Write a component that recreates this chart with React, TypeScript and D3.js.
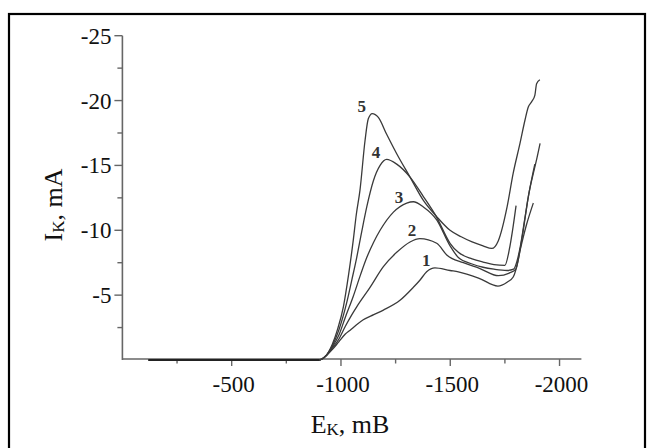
import React from "react";
import * as d3 from "d3";

// Potential (mV) and current (mA) for each polarization curve
const e1 = [-120, -900, -930, -960, -990, -1020, -1042, -1070, -1102, -1150, -1194, -1270, -1331, -1361, -1392, -1430, -1499, -1537, -1632, -1718, -1760, -1788, -1813, -1834, -1857, -1883, -1897, -1911];
const i1 = [0, 0, -0.3, -0.8, -1.4, -2.0, -2.3, -2.7, -3.1, -3.5, -3.85, -4.6, -5.6, -6.15, -6.8, -7.1, -6.9, -6.8, -6.3, -5.7, -6.0, -6.4, -7.9, -10.0, -12.6, -14.6, -15.6, -16.7];

const e2 = [-120, -900, -930, -960, -990, -1020, -1050, -1072, -1133, -1194, -1255, -1316, -1361, -1438, -1484, -1560, -1636, -1720, -1770, -1800, -1820, -1850, -1880];
const i2 = [0, 0, -0.3, -0.9, -1.6, -2.6, -3.5, -4.1, -5.6, -7.2, -8.3, -9.1, -9.36, -9.0, -8.1, -7.5, -7.05, -6.5, -6.7, -7.0, -8.5, -10.5, -12.1];

const e3 = [-120, -900, -930, -960, -990, -1020, -1056, -1090, -1118, -1150, -1179, -1240, -1301, -1331, -1377, -1438, -1499, -1537, -1600, -1650, -1700, -1760, -1790, -1805, -1820, -1842, -1865, -1887];
const i3 = [0, 0, -0.3, -1.0, -1.9, -3.3, -4.9, -6.6, -7.9, -9.1, -10.0, -11.4, -12.1, -12.2, -11.8, -10.8, -8.8, -7.9, -7.4, -7.15, -7.0, -6.9, -7.0, -7.6, -8.7, -11.0, -13.3, -15.1];

const e4 = [-120, -900, -930, -960, -990, -1026, -1050, -1072, -1095, -1118, -1148, -1179, -1209, -1255, -1316, -1377, -1438, -1499, -1537, -1600, -1650, -1700, -1750, -1770, -1785, -1801];
const i4 = [0, 0, -0.3, -1.1, -2.3, -4.4, -6.2, -7.9, -9.9, -11.8, -13.8, -15.0, -15.46, -15.1, -14.1, -12.6, -11.0, -9.0, -8.3, -7.8, -7.55, -7.35, -7.3, -8.5, -10.0, -11.9];

const e5 = [-120, -900, -930, -960, -985, -1011, -1035, -1056, -1070, -1087, -1110, -1125, -1143, -1171, -1209, -1255, -1316, -1377, -1438, -1499, -1550, -1600, -1650, -1690, -1720, -1760, -1788, -1819, -1842, -1857, -1872, -1887, -1895, -1910];
const i5 = [0, 0, -0.3, -1.2, -2.4, -4.1, -6.6, -9.2, -11.2, -13.1, -16.9, -18.6, -19.0, -18.7, -17.4, -15.9, -14.1, -12.3, -11.05, -10.0, -9.5, -9.1, -8.8, -8.6, -9.2, -11.8, -14.4, -16.7, -18.5, -19.5, -19.9, -20.4, -21.3, -21.6];

const curveLabels = ["1", "2", "3", "4", "5"];
const labelE = [-1390, -1325, -1265, -1160, -1095];
const labelI = [-7.7, -10.0, -12.6, -16.0, -19.6];

const xTicksMajor = [-500, -1000, -1500, -2000];
const xTicksMinor = [-250, -750, -1250, -1750];
const yTicksMajor = [-5, -10, -15, -20, -25];
const yTicksMinor = [-2.5, -7.5, -12.5, -17.5, -22.5];

const W = 653;
const H = 448;

export default function App() {
  const x = d3.scaleLinear().domain([0, -2100]).range([122.4, 581.4]);
  const y = d3.scaleLinear().domain([0, -25]).range([360, 35.7]);

  const series = [
    [e1, i1],
    [e2, i2],
    [e3, i3],
    [e4, i4],
    [e5, i5],
  ];

  const line = d3
    .line<[number, number]>()
    .x((d) => x(d[0]))
    .y((d) => y(d[1]))
    .curve(d3.curveMonotoneX);

  const axisColor = "#666";
  const font = "'Liberation Serif', 'Times New Roman', serif";

  return (
    <svg
      width={W}
      height={H}
      style={{ position: "absolute", left: 0, top: 0, background: "#fff" }}
      fontFamily={font}
    >
      <rect x={9} y={14} width={636} height={500} fill="none" stroke="#000" strokeWidth={2.2} />

      {/* axes */}
      <line x1={x(0)} x2={x(0)} y1={y(-25)} y2={y(0)} stroke={axisColor} strokeWidth={1.6} />
      <line x1={x(0)} x2={x(-2100)} y1={y(0) - 1} y2={y(0) - 1} stroke={axisColor} strokeWidth={1.6} />

      {yTicksMajor.map((t) => (
        <g key={"ym" + t}>
          <line x1={x(0) - 8} x2={x(0)} y1={y(t)} y2={y(t)} stroke={axisColor} strokeWidth={1.4} />
          <text x={x(0) - 11} y={y(t)} dy="0.35em" textAnchor="end" fontSize={23} fill="#111">
            {t}
          </text>
        </g>
      ))}
      {yTicksMinor.map((t) => (
        <line key={"yn" + t} x1={x(0) - 5} x2={x(0)} y1={y(t)} y2={y(t)} stroke={axisColor} strokeWidth={1.4} />
      ))}
      {xTicksMajor.map((t) => (
        <g key={"xm" + t}>
          <line x1={x(t)} x2={x(t)} y1={y(0) - 1} y2={y(0) + 6} stroke={axisColor} strokeWidth={1.4} />
          <text x={x(t) + 2} y={392} textAnchor="middle" fontSize={23} fill="#111">
            {t}
          </text>
        </g>
      ))}
      {xTicksMinor.map((t) => (
        <line key={"xn" + t} x1={x(t)} x2={x(t)} y1={y(0) - 1} y2={y(0) + 3.5} stroke={axisColor} strokeWidth={1.4} />
      ))}

      {/* curves */}
      {series.map(([es, is], k) => (
        <path
          key={"c" + k}
          d={line(es.map((e, j) => [e, is[j]] as [number, number])) || ""}
          fill="none"
          stroke="#3a3a3a"
          strokeWidth={1.3}
        />
      ))}
      <line x1={x(-120)} x2={x(-900)} y1={y(0)} y2={y(0)} stroke="#222" strokeWidth={2.2} />

      {curveLabels.map((c, k) => (
        <text
          key={"l" + c}
          x={x(labelE[k])}
          y={y(labelI[k])}
          textAnchor="middle"
          dy="0.35em"
          fontSize={17}
          fontWeight="bold"
          fill="#333"
        >
          {c}
        </text>
      ))}

      {/* axis titles */}
      <text x={350} y={433} textAnchor="middle" fontSize={26} fill="#111">
        E<tspan fontSize={17} dy={2}>K</tspan>
        <tspan dy={-2}>, mB</tspan>
      </text>
      <text
        transform={`translate(62,205) rotate(-90)`}
        textAnchor="middle"
        fontSize={26}
        fill="#111"
      >
        I<tspan fontSize={17} dy={2}>K</tspan>
        <tspan dy={-2}>, mA</tspan>
      </text>
    </svg>
  );
}
